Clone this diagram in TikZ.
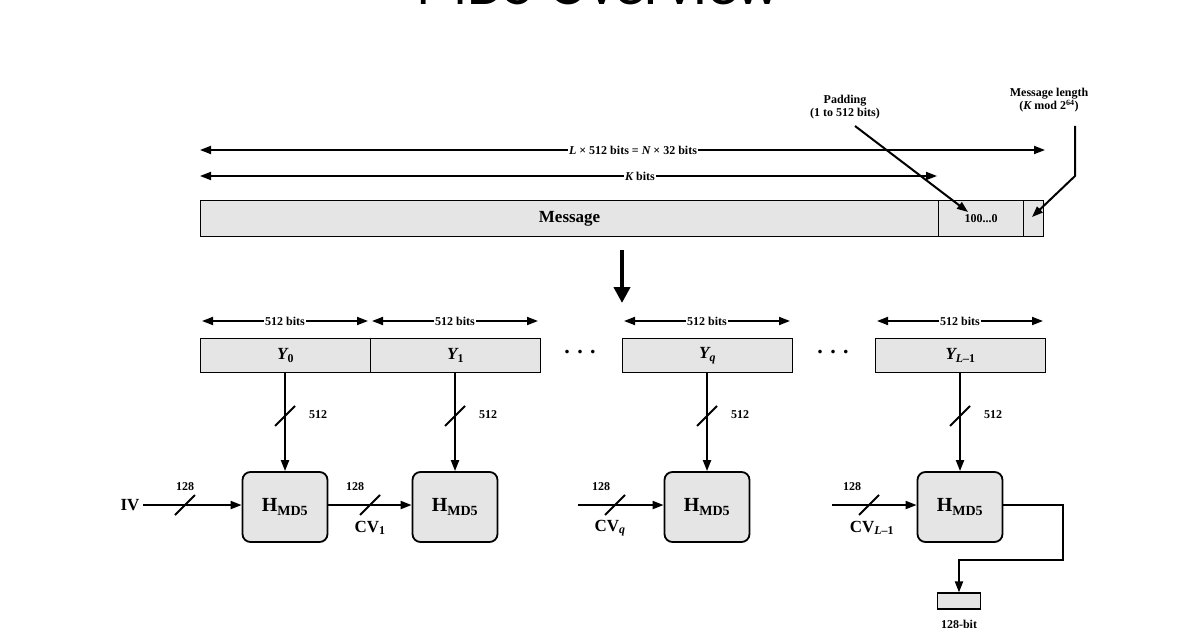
\documentclass[tikz,border=0pt]{standalone}
\usepackage{fontspec}
\setmainfont{Liberation Serif}
\newfontfamily\ttl{Carlito}
\usetikzlibrary{arrows.meta}
\begin{document}
\begin{tikzpicture}[x=1pt,y=-1pt,
  lbl/.style={font=\bfseries\fontsize{12}{13}\selectfont,inner sep=1pt},
  big/.style={font=\bfseries\fontsize{17}{19}\selectfont},
  bar/.style={draw,fill=gray!20,line width=1.2pt},
  hb/.style={draw,fill=gray!20,rounded corners=8pt,line width=1.8pt,minimum width=85pt,minimum height=70pt,font=\bfseries\fontsize{20}{22}\selectfont},
  ar/.style={line width=2pt,-{Triangle[length=11pt,width=8pt]}},
  dar/.style={line width=1.8pt,{Triangle[length=11pt,width=8pt]}-{Triangle[length=11pt,width=8pt]}},
  sl/.style={line width=2pt}]
\useasboundingbox (0,0) rectangle (1196,628);
\clip (0,0) rectangle (1196,628);
\node[font=\ttl\fontsize{60}{60}\selectfont,anchor=base] (title) at (598,5) {MD5 Overview};
% top arrows
\coordinate (l1) at (200,150); \coordinate (r1) at (1045,150);
\draw[dar] (l1) -- (r1);
\node[lbl,fill=white] (lt) at (633,150) {\itshape L\upshape{} × 512 bits = \itshape N\upshape{} × 32 bits};
\coordinate (l2) at (200,176); \coordinate (r2) at (937,176);
\draw[dar] (l2) -- (r2);
\node[lbl,fill=white] (kt) at (640,176) {\itshape K\upshape{} bits};
% message bar
\node[bar,minimum width=738pt,minimum height=36pt,inner sep=0pt,anchor=north west,big] (msg) at (200,200) {Message};
\node[bar,minimum width=85pt,minimum height=36pt,inner sep=0pt,anchor=north west,lbl] (pad) at (938,200) {100...0};
\node[bar,minimum width=20pt,minimum height=36pt,inner sep=0pt,anchor=north west] (len) at (1023,200) {};
\node[lbl,align=center] (padt) at (845,107) {Padding\\(1 to 512 bits)};
\node[lbl,align=center] (lent) at (1049,100) {Message length\\(\itshape K\upshape{} mod 2\textsuperscript{64})};
\draw[ar] (855,126) -- (968,212);
\coordinate (bend) at (1075,176);
\draw[ar] (1075,126) -- (bend) -- (1032,217);
% big arrow
\coordinate (ba) at (622,250); \coordinate (bb) at (622,303);
\draw[line width=4pt,-{Triangle[length=16pt,width=16pt]}] (ba) -- (bb);
% blocks
\foreach \n/\x/\t in {0/200/{Y\textsubscript{\upshape 0}},1/370/{Y\textsubscript{\upshape 1}},2/622/{Y\textsubscript{q}},3/875/{Y\textsubscript{L\upshape{}–1}}}{
  \node[bar,minimum width=170pt,minimum height=34pt,inner sep=0pt,anchor=north west,font=\bfseries\itshape\fontsize{17}{19}\selectfont] (y\n) at (\x,338) {\t};
  \draw[dar] (\x+2,321) -- (\x+168,321);
  \node[lbl,fill=white] at (\x+85,321) {512 bits};
}
\node[font=\bfseries\fontsize{22}{22}\selectfont] (d1) at (580,352) {.\,\,.\,\,.};
\node[font=\bfseries\fontsize{22}{22}\selectfont] (d2) at (833,352) {.\,\,.\,\,.};
% H boxes
\foreach \n/\x in {0/285,1/455,2/707,3/960}{
  \node[hb] (h\n) at (\x,507) {H\textsubscript{MD5}};
  \draw[ar] (y\n.south -| h\n) -- (h\n.north);
  \draw[sl] (\x-10,426) -- (\x+10,406);
  \node[lbl] at (\x+33,415) {512};
}
% chaining
\node[big] (iv) at (130,505) {IV};
\draw[ar] (iv.east) -- (h0.west |- iv.east);
\draw[sl] (175,515) -- (195,495); \node[lbl] at (185,487) {128};
\draw[ar] (h0.east |- iv.east) -- (h1.west |- iv.east);
\draw[sl] (360,515) -- (380,495); \node[lbl] at (355,487) {128};
\node[big] (cv1) at (370,528) {CV\textsubscript{1}};
\coordinate (q0) at (578,505);
\draw[ar] (q0) -- (h2.west |- q0);
\draw[sl] (605,515) -- (625,495); \node[lbl] at (601,487) {128};
\node[big] (cvq) at (610,528) {CV\textsubscript{\itshape q}};
\coordinate (q1) at (832,505);
\draw[ar] (q1) -- (h3.west |- q1);
\draw[sl] (859,515) -- (879,495); \node[lbl] at (852,487) {128};
\node[big] (cvl) at (872,528) {CV\textsubscript{\itshape L\upshape{}–1}};
% output
\node[bar,minimum width=43pt,minimum height=16pt,inner sep=0pt] (out) at (959,601) {};
\draw[ar] (h3.east |- q1) -- (1063,505) -- (1063,560) -- (959,560) -- (out.north);
\node[lbl] (outt) at (959,624) {128-bit};
\end{tikzpicture}
\end{document}
